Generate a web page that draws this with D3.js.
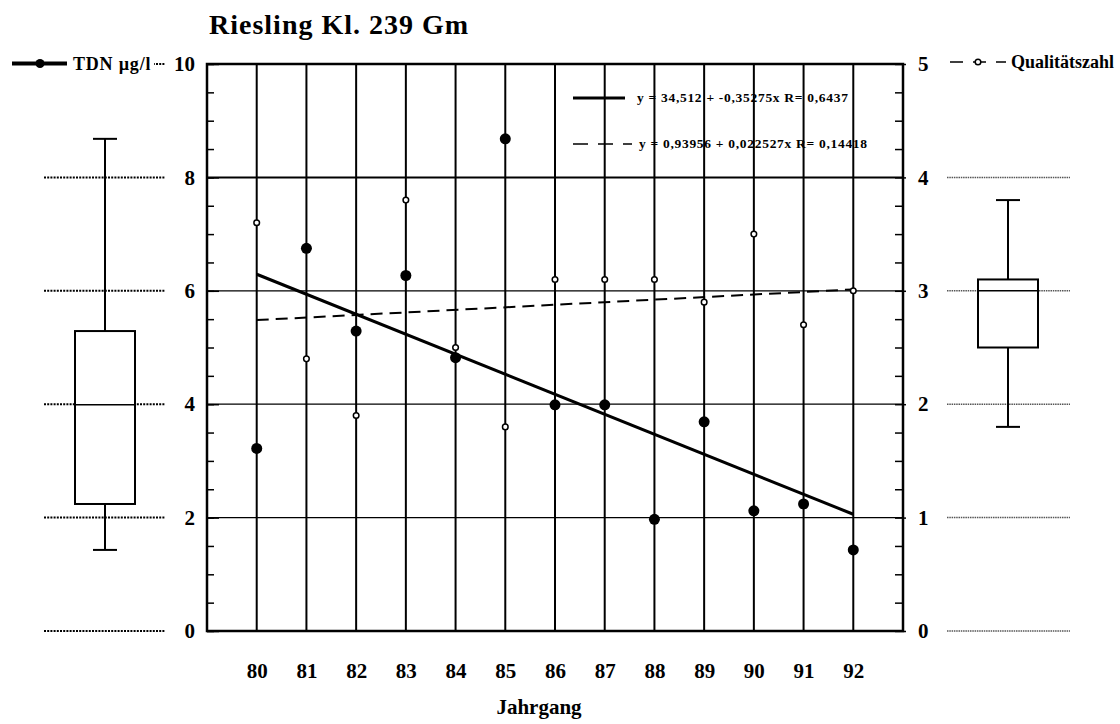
<!DOCTYPE html>
<html lang="de">
<head>
<meta charset="UTF-8">
<title>Riesling Kl. 239 Gm</title>
<script src="https://d3js.org/d3.v7.min.js"></script>
<style>
  body { margin: 0; background: #fff; }
  svg text { font-family: 'Liberation Serif', 'Times New Roman', serif; font-weight: bold; fill: #000; }
</style>
</head>
<body>
<div id="chart"></div>
<script>
// data
var years = [80, 81, 82, 83, 84, 85, 86, 87, 88, 89, 90, 91, 92];
var tdn = [3.22, 6.75, 5.29, 6.27, 4.82, 8.68, 3.99, 3.99, 1.97, 3.69, 2.12, 2.24, 1.43];
var quality = [3.6, 2.4, 1.9, 3.8, 2.5, 1.8, 3.1, 3.1, 3.1, 2.9, 3.5, 2.7, 3.0];
// regression coefficients as printed in the legend [intercept, slope]
var tdnFit = [34.512, -0.35275];
var qualFit = [0.93956, 0.022527];
var leftTicks = [0, 2, 4, 6, 8, 10];
var rightTicks = [0, 1, 2, 3, 4, 5];
var fitLabels = ["y = 34,512 + -0,35275x R= 0,6437", "y = 0,93956 + 0,022527x R= 0,14418"];

var W = 1120, H = 724;
var pLeft = 207, pRight = 903, pTop = 64, pBottom = 631;

var svg = d3.select("#chart").append("svg")
  .attr("width", W)
  .attr("height", H);

var x = d3.scaleLinear().domain([79, 93]).range([pLeft, pRight]);
var yL = d3.scaleLinear().domain([0, 10]).range([pBottom, pTop]);
var yR = d3.scaleLinear().domain([0, 5]).range([pBottom, pTop]);

// title
svg.append("text")
  .attr("x", 209)
  .attr("y", 34)
  .attr("font-size", "28px")
  .attr("letter-spacing", "1px")
  .text("Riesling Kl. 239 Gm");

// horizontal grid
svg.append("g").selectAll("line")
  .data(leftTicks.filter(function(d) { return d > 0 && d < 10; }))
  .enter().append("line")
  .attr("x1", pLeft).attr("x2", pRight)
  .attr("y1", function(d) { return yL(d); })
  .attr("y2", function(d) { return yL(d); })
  .attr("stroke", "#000")
  .attr("stroke-width", function(d) { return d == 8 ? 2 : 1.2; });

// vertical grid
svg.append("g").selectAll("line")
  .data(years)
  .enter().append("line")
  .attr("x1", function(d) { return x(d); })
  .attr("x2", function(d) { return x(d); })
  .attr("y1", pTop).attr("y2", pBottom)
  .attr("stroke", "#000")
  .attr("stroke-width", 2);

// left axis: minor ticks inward + labels
svg.append("g")
  .attr("transform", "translate(" + pLeft + ",0)")
  .call(d3.axisLeft(yL).tickValues(d3.range(0, 10.01, 0.5)).tickSize(-7).tickFormat(""))
  .call(function(g) { g.select(".domain").remove(); g.selectAll("line").attr("stroke-width", 1.5); });

svg.append("g")
  .attr("transform", "translate(" + pLeft + ",0)")
  .call(d3.axisLeft(yL).tickValues(leftTicks).tickSize(-12).tickPadding(12))
  .call(function(g) {
    g.select(".domain").remove();
    g.selectAll("line").attr("stroke-width", 1.5);
    g.selectAll("text").attr("font-size", "21px").attr("font-family", null);
  });

// right axis
svg.append("g")
  .attr("transform", "translate(" + pRight + ",0)")
  .call(d3.axisRight(yR).tickValues(d3.range(0, 5.01, 0.25)).tickSize(-8).tickFormat(""))
  .call(function(g) { g.select(".domain").remove(); g.selectAll("line").attr("stroke-width", 1.5); });

svg.append("g")
  .attr("transform", "translate(" + pRight + ",0)")
  .call(d3.axisRight(yR).tickValues(rightTicks).tickSize(3).tickPadding(12).tickFormat(d3.format("d")))
  .call(function(g) {
    g.select(".domain").remove();
    g.selectAll("line").attr("stroke-width", 1.5);
    g.selectAll("text").attr("font-size", "21px").attr("font-family", null);
  });

// x axis labels
svg.append("g")
  .attr("transform", "translate(0," + pBottom + ")")
  .call(d3.axisBottom(x).tickValues(years).tickSize(0).tickPadding(32))
  .call(function(g) {
    g.select(".domain").remove();
    g.selectAll("text").attr("font-size", "21px").attr("font-family", null);
  });

svg.append("text")
  .attr("x", (pLeft + pRight) / 2 - 16)
  .attr("y", 714)
  .attr("text-anchor", "middle")
  .attr("font-size", "21px")
  .text("Jahrgang");

// frame
svg.append("rect")
  .attr("x", pLeft).attr("y", pTop)
  .attr("width", pRight - pLeft).attr("height", pBottom - pTop)
  .attr("fill", "none")
  .attr("stroke", "#000")
  .attr("stroke-width", 2.5);

// regression lines
var fitX = [years[0], years[years.length - 1]];
svg.append("line")
  .attr("x1", x(fitX[0])).attr("x2", x(fitX[1]))
  .attr("y1", yL(tdnFit[0] + tdnFit[1] * fitX[0]))
  .attr("y2", yL(tdnFit[0] + tdnFit[1] * fitX[1]))
  .attr("stroke", "#000").attr("stroke-width", 3);

svg.append("line")
  .attr("x1", x(fitX[0])).attr("x2", x(fitX[1]))
  .attr("y1", yR(qualFit[0] + qualFit[1] * fitX[0]))
  .attr("y2", yR(qualFit[0] + qualFit[1] * fitX[1]))
  .attr("stroke", "#000").attr("stroke-width", 2)
  .attr("stroke-dasharray", "12,7");

// points
svg.append("g").selectAll("circle")
  .data(years)
  .enter().append("circle")
  .attr("cx", function(d) { return x(d); })
  .attr("cy", function(d, i) { return yL(tdn[i]); })
  .attr("r", 5.5)
  .attr("fill", "#000");

svg.append("g").selectAll("circle")
  .data(years)
  .enter().append("circle")
  .attr("cx", function(d) { return x(d); })
  .attr("cy", function(d, i) { return yR(quality[i]); })
  .attr("r", 2.8)
  .attr("fill", "#fff")
  .attr("stroke", "#000")
  .attr("stroke-width", 1.5);

// in-plot legend
var lg = svg.append("g");
lg.append("line")
  .attr("x1", 573).attr("x2", 625).attr("y1", 98).attr("y2", 98)
  .attr("stroke", "#000").attr("stroke-width", 3);
lg.append("line")
  .attr("x1", 573).attr("x2", 632).attr("y1", 144).attr("y2", 144)
  .attr("stroke", "#000").attr("stroke-width", 1.5)
  .attr("stroke-dasharray", "15,10");
lg.selectAll("text")
  .data(fitLabels)
  .enter().append("text")
  .attr("x", function(d, i) { return i == 0 ? 637 : 639; })
  .attr("y", function(d, i) { return i == 0 ? 102 : 148; })
  .attr("font-size", "13.5px")
  .attr("letter-spacing", "0.7px")
  .text(function(d) { return d; });

// box plots
function boxStats(v) {
  var s = v.slice().sort(d3.ascending);
  return [d3.min(s), d3.quantile(s, 0.25), d3.quantile(s, 0.5), d3.quantile(s, 0.75), d3.max(s)];
}

function drawRefLines(y, ticks, x1, x2, color, width, dash) {
  svg.append("g").selectAll("line")
    .data(ticks)
    .enter().append("line")
    .attr("x1", x1).attr("x2", x2)
    .attr("y1", function(d) { return y(d); })
    .attr("y2", function(d) { return y(d); })
    .attr("stroke", color)
    .attr("stroke-width", width)
    .attr("stroke-dasharray", dash);
}

function drawBox(y, st, cx, bw, cw) {
  var g = svg.append("g").attr("stroke", "#000").attr("stroke-width", 2);
  g.append("line").attr("x1", cx).attr("x2", cx).attr("y1", y(st[0])).attr("y2", y(st[1]));
  g.append("line").attr("x1", cx).attr("x2", cx).attr("y1", y(st[3])).attr("y2", y(st[4]));
  g.append("line").attr("x1", cx - cw / 2).attr("x2", cx + cw / 2).attr("y1", y(st[0])).attr("y2", y(st[0]));
  g.append("line").attr("x1", cx - cw / 2).attr("x2", cx + cw / 2).attr("y1", y(st[4])).attr("y2", y(st[4]));
  g.append("rect")
    .attr("x", cx - bw / 2).attr("y", y(st[3]))
    .attr("width", bw).attr("height", y(st[1]) - y(st[3]))
    .attr("fill", "#fff");
  g.append("line").attr("x1", cx - bw / 2).attr("x2", cx + bw / 2)
    .attr("y1", y(st[2])).attr("y2", y(st[2])).attr("stroke-width", 1.5);
}

drawRefLines(yL, leftTicks, 44, 165, "#000", 2, "2,1.2");
drawRefLines(yR, rightTicks, 947, 1070, "#555", 1.5, "1.5,0.8");
drawBox(yL, boxStats(tdn), 105, 60, 24);
drawBox(yR, boxStats(quality), 1008, 60, 24);

// outer legends
svg.append("rect").attr("x", 0).attr("y", 50).attr("width", 154).attr("height", 26).attr("fill", "#fff");
svg.append("line")
  .attr("x1", 12).attr("x2", 67).attr("y1", 63.5).attr("y2", 63.5)
  .attr("stroke", "#000").attr("stroke-width", 4);
svg.append("circle").attr("cx", 40).attr("cy", 63.5).attr("r", 4.5).attr("fill", "#000");
svg.append("text")
  .attr("x", 73).attr("y", 69.5)
  .attr("font-size", "18px")
  .attr("letter-spacing", "0.8px")
  .text("TDN µg/l");

svg.append("rect").attr("x", 940).attr("y", 50).attr("width", 180).attr("height", 26).attr("fill", "#fff");
svg.append("line")
  .attr("x1", 950).attr("x2", 1006).attr("y1", 62).attr("y2", 62)
  .attr("stroke", "#000").attr("stroke-width", 1.5)
  .attr("stroke-dasharray", "13,10");
svg.append("circle").attr("cx", 978).attr("cy", 62).attr("r", 2.8)
  .attr("fill", "#fff").attr("stroke", "#000").attr("stroke-width", 1.5);
svg.append("text")
  .attr("x", 1011).attr("y", 68)
  .attr("font-size", "18px")
  .text("Qualitätszahl");
</script>
</body>
</html>
